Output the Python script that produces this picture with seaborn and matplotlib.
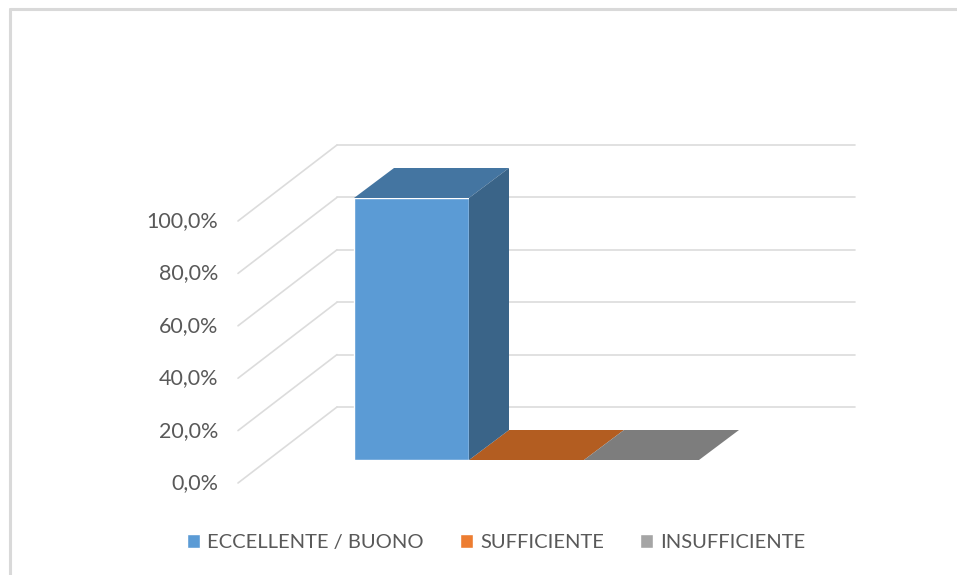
import matplotlib
matplotlib.use("Agg")
import matplotlib.pyplot as plt
import pandas as pd
import seaborn as sns
from matplotlib.lines import Line2D
from matplotlib.patches import Polygon
from matplotlib.transforms import Affine2D

categories = ["ECCELLENTE / BUONO", "SUFFICIENTE", "INSUFFICIENTE"]
values = [100.0, 0.0, 0.0]
y_ticks = [0, 20, 40, 60, 80, 100]
y_labels = ["0,0%", "20,0%", "40,0%", "60,0%", "80,0%", "100,0%"]

front_colors = ["#5B9BD5", "#ED7D31", "#A5A5A5"]
top_colors = ["#4475A1", "#B35D21", "#7D7D7D"]
side_colors = ["#3A6488", "#98501C", "#6A6A6A"]
grid_color = "#DCDCDC"
text_color = "#595959"

W, H = 957, 575
BAR_W = 115  # px for one category
# everything sits in the plane of the bars front face, depth goes by pixel shifts
LEFT, RIGHT, TOP, BOTTOM = 268, 786, 198, 460
BAR_START = 354
BAR_DEPTH = (40, 30)
WALL_BACK = (69, 53)
WALL_FRONT = (-30, -23)

sns.set_theme(style="white")
plt.rcParams["font.family"] = ["Lato", "DejaVu Sans"]

fig = plt.figure(figsize=(W / 100, H / 100), dpi=100)
ax = fig.add_axes([LEFT / W, 1 - BOTTOM / H, (RIGHT - LEFT) / W, (BOTTOM - TOP) / H])

df = pd.DataFrame({"cat": categories, "val": values})
sns.barplot(data=df, x="cat", y="val", hue="cat", palette=front_colors, width=1.0,
            dodge=False, saturation=1, ax=ax, legend=True, zorder=3)

x0 = -0.5 - (BAR_START - LEFT) / BAR_W
x1 = x0 + (RIGHT - LEFT) / BAR_W
ax.set_xlim(x0, x1)
ax.set_ylim(0, 100)
ax.set_xlabel("")
ax.set_ylabel("")
ax.set_xticks([])
sns.despine(ax=ax, left=True, bottom=True)
ax.patch.set_visible(False)


def shifted(dx, dy):
    return ax.transData + Affine2D().translate(dx, dy)


# back wall lines and the slanted side wall lines
for t in y_ticks:
    ax.plot([x0, x1], [t, t], color=grid_color, lw=1.2, clip_on=False, zorder=1,
            transform=shifted(*WALL_BACK))
    pt = ax.transData.transform((x0, t))
    fig.add_artist(Line2D([pt[0] + WALL_FRONT[0], pt[0] + WALL_BACK[0]],
                          [pt[1] + WALL_FRONT[1], pt[1] + WALL_BACK[1]],
                          color=grid_color, lw=1.2, transform=None, zorder=0))

# 3D faces worked out from the bars seaborn drew
dx, dy = BAR_DEPTH
to_px = ax.transData
bars = [p for p in ax.patches if p.get_width() > 0]
for i, bar in enumerate(bars):
    xa, xb = bar.get_x(), bar.get_x() + bar.get_width()
    h = bar.get_height()
    (ax_, ay_), (bx_, by_) = to_px.transform([(xa, h), (xb, h)])
    _, by0 = to_px.transform((xb, 0))
    top = Polygon([(ax_, ay_), (bx_, by_), (bx_ + dx, by_ + dy), (ax_ + dx, ay_ + dy)],
                  closed=True, fc=top_colors[i], ec="none", transform=None, zorder=4,
                  clip_on=False)
    ax.add_artist(top)
    if h > 0:
        side = Polygon([(bx_, by_), (bx_ + dx, by_ + dy), (bx_ + dx, by0 + dy), (bx_, by0)],
                       closed=True, fc=side_colors[i], ec="none", transform=None, zorder=5,
                       clip_on=False)
        ax.add_artist(side)

ax.set_yticks(y_ticks, y_labels)
ax.tick_params(axis="y", length=0, pad=36, labelsize=15.5, labelcolor=text_color)
for lab in ax.get_yticklabels():
    lab.set_transform(lab.get_transform() + Affine2D().translate(0, -21))

handles, labels = ax.get_legend_handles_labels()
ax.legend(handles, labels, loc="center", bbox_to_anchor=(496 / W, 1 - 542.5 / H),
          bbox_transform=fig.transFigure, ncol=3, frameon=False, fontsize=14.5,
          labelcolor=text_color, handlelength=0.65, handleheight=0.65, handletextpad=0.35,
          columnspacing=1.8, borderaxespad=0, borderpad=0)

# picture border, only top and left
fig.add_artist(Line2D([9.5 / W, 9.5 / W], [0, 1 - 8.5 / H], color="#D9D9D9", lw=2.2))
fig.add_artist(Line2D([9.5 / W, 1], [1 - 8.5 / H, 1 - 8.5 / H], color="#D9D9D9", lw=2.2))

fig.savefig("out.png", dpi=100)
